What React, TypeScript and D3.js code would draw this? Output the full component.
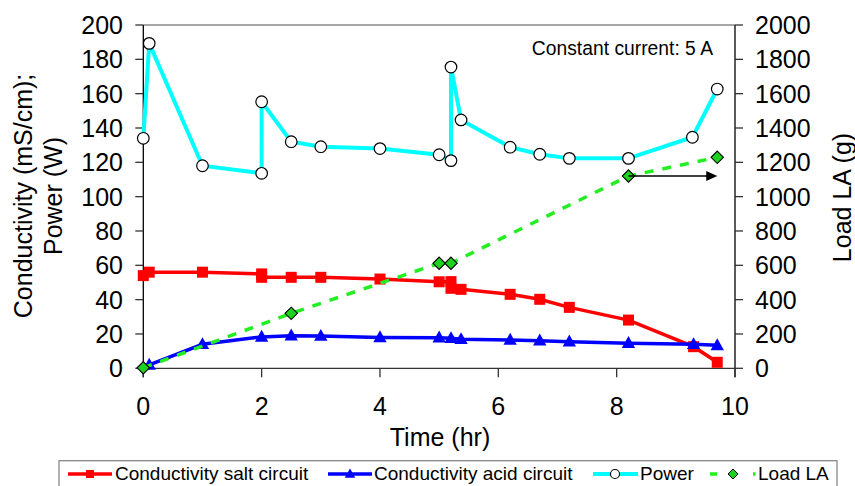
import React, { useEffect } from "react";
import * as d3 from "d3";

// time (hr) and values
const saltTime = [0, 0.1, 1, 2, 2, 2.5, 3, 4, 5, 5.2, 5.2, 5.37, 6.2, 6.7, 7.2, 8.2, 9.3, 9.7];
const saltValues = [54, 56, 56, 55, 53, 53, 53, 52, 50.4, 50.5, 46.6, 46, 43.1, 40.2, 35.5, 28.1, 12.6, 3.5];

const acidTime = [0.1, 1, 2, 2.5, 3, 4, 5, 5.2, 5.37, 6.2, 6.7, 7.2, 8.2, 9.3, 9.7];
const acidValues = [2, 14, 18.3, 19, 18.8, 18, 17.8, 17.5, 16.9, 16.5, 16.1, 15.5, 14.6, 14, 13.4];

const powerTime = [0, 0.1, 1, 2, 2, 2.5, 3, 4, 5, 5.2, 5.2, 5.37, 6.2, 6.7, 7.2, 8.2, 9.28, 9.7];
const powerValues = [134, 189.3, 118, 113.6, 155.3, 132, 129.1, 128, 124.4, 121, 175.5, 144.7, 128.8, 124.7, 122.3, 122.3, 134.6, 162.7];

const loadTime = [0, 2.5, 5, 5.2, 8.2, 9.7];
const loadValues = [3, 320, 612, 612, 1120, 1229];

const xTicks = [0, 2, 4, 6, 8, 10];
const leftTicks = [0, 20, 40, 60, 80, 100, 120, 140, 160, 180, 200];
const rightTicks = [0, 200, 400, 600, 800, 1000, 1200, 1400, 1600, 1800, 2000];

const arrowStart: [number, number] = [8.2, 1120];
const arrowEnd: [number, number] = [9.7, 1120];

const legendLabels = ["Conductivity salt circuit", "Conductivity acid circuit", "Power", "Load LA"];

const font = "'Liberation Sans', Arial, sans-serif";

type Pt = [number, number];
const zip = (a: number[], b: number[]): Pt[] => a.map((t, i) => [t, b[i]]);

export default function App() {
  useEffect(() => {
    document.body.style.margin = "0";
  }, []);

  const left = 143.3, right = 735, top = 25, bottom = 368.3;

  const x = d3.scaleLinear().domain([0, 10]).range([left, right]);
  const yL = d3.scaleLinear().domain([0, 200]).range([bottom, top]);
  const yR = d3.scaleLinear().domain([0, 2000]).range([bottom, top]);

  const lineL = d3.line<Pt>().x(d => x(d[0])).y(d => yL(d[1]));
  const lineR = d3.line<Pt>().x(d => x(d[0])).y(d => yR(d[1]));

  const salt = zip(saltTime, saltValues);
  const acid = zip(acidTime, acidValues);
  const power = zip(powerTime, powerValues);
  const load = zip(loadTime, loadValues);

  const tri = (cx: number, cy: number, s: number) =>
    `M${cx},${cy - s * 0.62}L${cx + s * 0.58},${cy + s * 0.42}L${cx - s * 0.58},${cy + s * 0.42}Z`;
  const diamond = (cx: number, cy: number, r: number) =>
    `M${cx},${cy - r}L${cx + r},${cy}L${cx},${cy + r}L${cx - r},${cy}Z`;

  const ax1 = x(arrowStart[0]), ay = yR(arrowStart[1]), ax2 = x(arrowEnd[0]);

  const legY = 474;

  return (
    <svg width={855} height={486} style={{ display: "block", fontFamily: font }}>
      <rect width={855} height={486} fill="#fff" />

      {/* frame */}
      <line x1={left} x2={right} y1={top} y2={top} stroke="#888" strokeWidth={1.3} />
      <line x1={left} x2={left} y1={top} y2={bottom + 9} stroke="#000" strokeWidth={1.3} />
      <line x1={right} x2={right} y1={top} y2={bottom + 9} stroke="#000" strokeWidth={1.3} />
      <line x1={left} x2={right} y1={bottom} y2={bottom} stroke="#333" strokeWidth={1.3} />

      {/* ticks */}
      {leftTicks.map(t => (
        <g key={"l" + t}>
          <line x1={left - 8} x2={left} y1={yL(t)} y2={yL(t)} stroke="#333" strokeWidth={1.3} />
          <text x={123} y={yL(t)} dy="0.36em" textAnchor="end" fontSize={25}>{t}</text>
        </g>
      ))}
      {rightTicks.map(t => (
        <g key={"r" + t}>
          <line x1={right} x2={right + 8} y1={yR(t)} y2={yR(t)} stroke="#333" strokeWidth={1.3} />
          <text x={755} y={yR(t)} dy="0.36em" textAnchor="start" fontSize={25}>{t}</text>
        </g>
      ))}
      {xTicks.map(t => (
        <g key={"x" + t}>
          <line x1={x(t)} x2={x(t)} y1={bottom} y2={bottom + 9} stroke="#333" strokeWidth={1.3} />
          <text x={x(t)} y={415} textAnchor="middle" fontSize={25}>{t}</text>
        </g>
      ))}

      {/* axis titles */}
      <text x={440} y={446} textAnchor="middle" fontSize={25}>Time (hr)</text>
      <text transform="translate(22.5,196) rotate(-90)" textAnchor="middle" dominantBaseline="central" fontSize={25}>
        Conductivity (mS/cm);
      </text>
      <text transform="translate(53,196) rotate(-90)" textAnchor="middle" dominantBaseline="central" fontSize={25}>
        Power (W)
      </text>
      <text transform="translate(842,197.5) rotate(-90)" textAnchor="middle" dominantBaseline="central" fontSize={25}>
        Load LA (g)
      </text>

      <text x={713} y={55} textAnchor="end" fontSize={19.3}>Constant current: 5 A</text>

      {/* salt */}
      <path d={lineL(salt) || ""} fill="none" stroke="#ff0000" strokeWidth={3.5} />
      {salt.map((d, i) => (
        <rect key={"s" + i} x={x(d[0]) - 5.5} y={yL(d[1]) - 5.5} width={11} height={11} fill="#ff0000" />
      ))}

      {/* acid */}
      <path d={lineL(acid) || ""} fill="none" stroke="#0000ff" strokeWidth={3.5} />
      {acid.map((d, i) => (
        <path key={"a" + i} d={tri(x(d[0]), yL(d[1]), 11.5)} fill="#0000ff" />
      ))}

      {/* power */}
      <path d={lineL(power) || ""} fill="none" stroke="#00ffff" strokeWidth={4} />
      {power.map((d, i) => (
        <circle key={"p" + i} cx={x(d[0])} cy={yL(d[1])} r={5.8} fill="#fff" stroke="#000" strokeWidth={1.2} />
      ))}

      {/* load LA */}
      <path d={lineR(load) || ""} fill="none" stroke="#22ee22" strokeWidth={3.5} strokeDasharray="9,9" />
      {load.map((d, i) => (
        <path key={"g" + i} d={diamond(x(d[0]), yR(d[1]), 6.2)} fill="#1fd21f" stroke="#000" strokeWidth={1.1} />
      ))}

      {/* arrow */}
      <line x1={ax1} x2={ax2 - 10} y1={ay} y2={ay} stroke="#000" strokeWidth={1.5} />
      <path d={`M${ax2},${ay}L${ax2 - 11},${ay - 5}L${ax2 - 11},${ay + 5}Z`} fill="#000" />

      {/* legend */}
      <rect x={59} y={460.7} width={778} height={40} fill="#fff" stroke="#888" strokeWidth={1.3} />
      <line x1={68} x2={112} y1={legY} y2={legY} stroke="#ff0000" strokeWidth={3.5} />
      <rect x={86} y={legY - 4} width={8} height={8} fill="#ff0000" />
      <text x={115} y={480} fontSize={19}>{legendLabels[0]}</text>

      <line x1={328} x2={372} y1={legY} y2={legY} stroke="#0000ff" strokeWidth={3.5} />
      <path d={tri(350, legY, 9)} fill="#0000ff" />
      <text x={374} y={480} fontSize={19}>{legendLabels[1]}</text>

      <line x1={593} x2={638} y1={legY} y2={legY} stroke="#00ffff" strokeWidth={4} />
      <circle cx={615} cy={legY} r={4.5} fill="#fff" stroke="#000" strokeWidth={1.1} />
      <text x={640} y={480} fontSize={19}>{legendLabels[2]}</text>

      <line x1={710} x2={717} y1={legY} y2={legY} stroke="#22ee22" strokeWidth={3.5} />
      <path d={diamond(733, legY, 5)} fill="#1fd21f" stroke="#000" strokeWidth={1} />
      <line x1={753} x2={755.5} y1={legY} y2={legY} stroke="#22ee22" strokeWidth={3.5} />
      <text x={758} y={480} fontSize={19}>{legendLabels[3]}</text>
    </svg>
  );
}
